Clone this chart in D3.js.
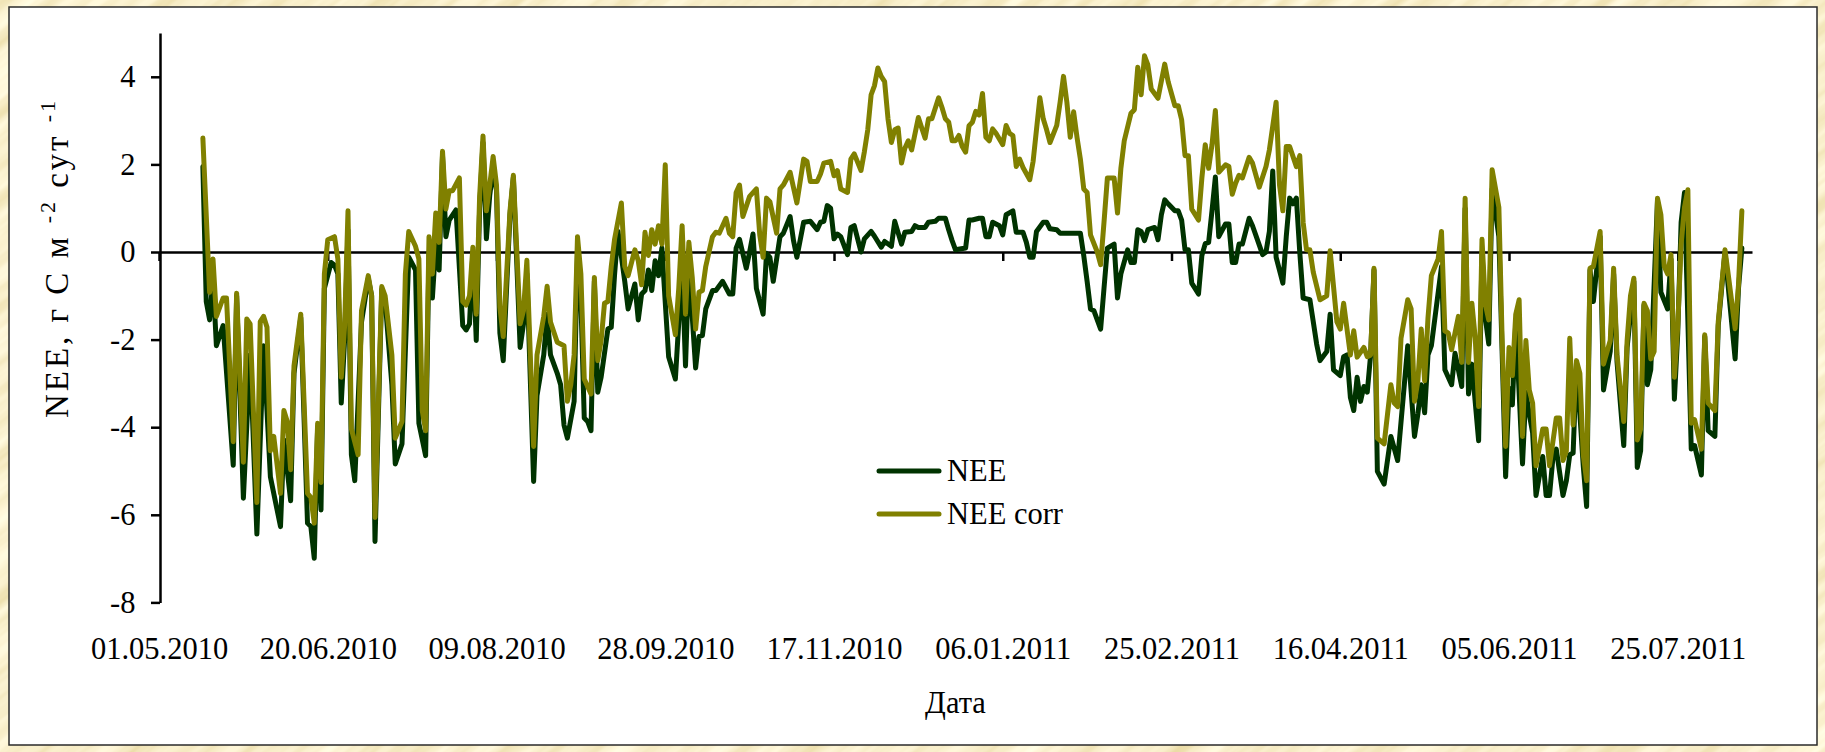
<!DOCTYPE html>
<html>
<head>
<meta charset="utf-8">
<script src="https://cdnjs.cloudflare.com/ajax/libs/d3/7.8.5/d3.min.js"></script>
<style>
	body { margin: 0; background: #fff; }
	svg { display: block; }
	text { font-family: "Liberation Serif", "Times New Roman", serif; fill: #000; }
</style>
</head>
<body>
<svg id="chart" width="1825" height="752"></svg>
<script>
// ---- data ----
// x tick labels, 50 days apart; the first one is the axis start
const tickLabels = ['01.05.2010', '20.06.2010', '09.08.2010', '28.09.2010', '17.11.2010',
	'06.01.2011', '25.02.2011', '16.04.2011', '05.06.2011', '25.07.2011'];
const axisEndLabel = '16.08.2011';
const yTickValues = [-8, -6, -4, -2, 0, 2, 4];
const yDomain = [-8, 5];
const seriesNames = ['NEE', 'NEE corr'];

// days counted from 01.05.2010
const neeDays = [13,14,15,16,17,19,22,23,25,27,29,31,33,36,37,39,40,42,44,45,46,47,48,49,51,52,53,54,55,56,57,58,60,62,63,64,66,67,69,70,72,74,76,77,79,80,81,82,83,84,85,86,88,90,91,92,93,94,95,96,97,98,99,100,101,102,104,105,107,108,109,111,112,114,115,116,118,119,120,121,123,124,125,126,127,128,129,130,131,133,134,135,136,138,139,141,142,143,144,145,146,147,148,149,151,153,155,156,157,159,160,161,162,164,165,167,169,170,171,172,174,175,176,177,179,180,181,182,184,185,187,188,189,191,193,195,196,197,198,199,200,201,202,204,205,206,208,209,211,212,214,215,217,218,220,221,223,224,225,227,228,230,231,233,234,235,236,239,240,241,243,244,245,246,247,249,250,251,253,254,256,257,258,259,260,262,263,264,266,267,273,274,275,276,277,279,280,281,283,284,285,287,288,289,290,291,292,293,295,296,297,298,299,301,302,303,304,305,306,308,309,310,311,312,313,314,316,317,318,319,320,321,323,324,327,328,329,330,331,333,334,335,336,337,338,339,341,342,343,344,346,347,348,350,351,352,353,354,355,356,357,358,359,360,361,363,365,367,370,372,373,374,375,376,377,380,381,383,384,386,387,388,389,391,392,393,394,395,397,399,400,401,402,404,405,406,407,408,410,411,412,413,414,416,417,418,419,420,422,423,424,425,427,428,430,431,432,434,435,437,438,439,440,441,442,444,445,447,448,449,450,451,452,454,455,457,458,459,461,462,464,465,467,468,469];
const neeValues = [1.95,-1.13,-1.55,-0.6,-2.14,-1.68,-4.87,-1.0,-5.62,-2.35,-6.44,-2.14,-5.13,-6.27,-4.29,-5.68,-2.77,-1.5,-6.19,-6.27,-6.99,-4.0,-5.89,-0.83,-0.24,-0.3,-0.5,-3.45,-2.0,0.5,-4.63,-5.22,-1.6,-0.6,-1.0,-6.61,-0.85,-1.1,-3.03,-4.84,-4.38,-0.12,-0.41,-3.91,-4.65,0.0,-1.05,0.18,-0.41,2.2,0.35,0.73,0.96,-1.68,-1.78,-1.64,0.0,-2.02,1.0,2.5,0.3,1.3,1.9,1.4,-1.85,-2.48,0.85,1.7,-2.18,-1.64,-0.5,-5.24,-3.28,-2.35,-1.42,-2.35,-2.77,-3.03,-3.95,-4.25,-3.41,0.0,-1.09,-3.79,-3.87,-4.08,-0.67,-3.2,-2.86,-1.76,-1.72,-0.5,0.47,-0.67,-1.3,-0.73,-1.55,-0.96,-0.88,-0.41,-0.88,-0.2,-0.54,0.09,-2.39,-2.9,-0.33,-2.6,-0.3,-2.65,-1.93,-1.91,-1.3,-0.88,-0.88,-0.67,-0.96,-0.96,0.09,0.29,-0.37,0.0,0.41,-0.83,-1.42,-0.03,-0.12,-0.67,0.35,0.43,0.81,0.26,-0.12,0.68,0.7,0.51,0.68,0.7,1.06,1.0,0.3,0.41,0.35,-0.06,0.56,0.6,0.0,0.3,0.47,0.36,0.11,0.24,0.13,0.7,0.18,0.45,0.47,0.6,0.56,0.56,0.68,0.7,0.77,0.77,0.5,0.26,0.05,0.09,0.73,0.73,0.77,0.77,0.35,0.35,0.68,0.6,0.39,0.85,0.94,0.45,0.45,0.22,-0.12,-0.12,0.47,0.68,0.68,0.53,0.51,0.43,0.43,-0.08,-0.67,-1.3,-1.34,-1.76,-0.83,0.09,0.18,-1.05,-0.5,0.05,-0.24,-0.24,0.51,0.47,0.26,0.51,0.56,0.28,0.85,1.19,1.1,0.94,0.94,0.73,0.05,0.05,-0.71,-0.96,-0.08,0.19,0.22,0.94,1.71,0.35,0.64,0.64,-0.24,-0.24,0.18,0.18,0.77,0.6,-0.06,0.0,0.47,1.85,-0.12,-0.71,0.35,1.23,1.1,1.23,0.0,-1.05,-1.09,-1.59,-2.1,-2.48,-2.27,-1.42,-2.69,-2.82,-2.39,-2.35,-3.32,-3.62,-2.86,-3.41,-3.07,-3.2,-2.35,-0.41,-5.01,-5.3,-4.21,-4.76,-2.14,-4.21,-3.7,-3.03,-3.67,-2.35,-2.14,-0.33,-2.69,-3.03,-2.31,-3.07,1.0,-3.24,-2.56,-4.31,0.0,-1.51,-2.1,1.44,0.35,-5.13,-3.11,-3.49,-1.59,-4.84,-3.2,-3.7,-4.13,-5.56,-4.67,-5.56,-5.56,-4.71,-4.5,-5.56,-5.22,-4.63,-4.59,-2.52,-4.88,-5.81,-0.41,-1.13,0.35,-3.15,-2.27,-0.5,-2.5,-4.42,-2.18,-0.67,-4.92,-4.54,-1.21,-3.03,-2.69,1.19,-0.92,-1.3,-0.16,-3.36,-1.85,0.68,1.36,-4.5,-4.42,-5.09,-1.93,-4.08,-4.21,-1.68,0.0,-0.83,-2.44,-0.83,0.09];

const neeCorrDays = [13,15,16,17,19,20,22,23,25,26,27,29,30,31,32,33,34,36,37,38,39,40,42,44,45,46,47,48,49,50,52,53,54,55,56,57,59,60,62,63,64,66,67,69,70,72,73,74,76,77,78,79,80,81,82,83,84,85,86,87,89,90,91,92,93,94,95,96,97,98,99,100,101,102,104,105,107,108,109,111,112,114,115,116,118,120,121,122,123,124,125,126,128,129,130,131,132,133,134,135,137,138,139,141,142,143,144,145,146,147,148,149,150,151,153,154,155,156,157,158,159,160,161,162,164,165,166,168,169,170,171,172,173,175,177,178,179,180,181,183,184,185,187,189,191,192,193,195,196,197,199,200,201,202,204,205,206,208,209,210,211,212,213,214,215,216,217,218,219,220,221,222,223,225,226,227,228,229,231,232,233,234,235,236,237,238,239,240,241,242,243,244,245,246,247,248,250,251,252,253,254,255,256,258,259,261,262,263,264,266,267,268,269,270,271,272,273,274,275,276,278,279,280,281,283,284,285,286,288,289,290,291,292,293,294,296,298,299,301,302,303,304,305,306,308,309,310,311,312,313,314,316,317,318,319,320,321,323,324,326,328,329,331,332,333,334,335,337,338,339,340,341,342,344,346,347,349,350,351,353,354,355,357,358,359,360,361,363,365,366,367,368,370,371,372,373,374,375,376,377,379,380,381,382,383,384,385,386,387,388,389,390,391,392,393,394,395,397,398,399,400,401,402,403,404,405,406,407,408,410,411,412,414,415,416,417,418,419,420,421,422,423,424,425,427,428,430,431,432,434,435,436,437,438,439,440,441,442,443,444,445,446,447,448,449,450,451,452,453,454,455,457,458,459,461,462,464,465,467,468,469];
const neeCorrValues = [2.6,-0.92,-0.16,-1.47,-1.05,-1.05,-4.33,-0.94,-4.8,-1.53,-1.64,-5.72,-1.59,-1.47,-1.72,-4.54,-4.21,-5.51,-3.62,-3.87,-4.97,-2.6,-1.42,-5.51,-5.6,-6.19,-3.91,-5.26,-0.5,0.28,0.35,-0.16,-2.86,-1.68,0.94,-4.04,-4.63,-1.34,-0.54,-1.0,-6.06,-0.79,-1.0,-2.35,-4.25,-3.87,-0.5,0.47,0.13,-0.16,-3.62,-4.08,0.35,-0.5,0.89,0.22,2.3,0.98,1.4,1.4,1.69,-1.13,-1.21,-1.0,0.11,-1.42,1.27,2.65,0.94,1.53,2.18,1.53,-1.26,-1.93,0.94,1.75,-1.64,-1.34,-0.19,-4.44,-2.35,-1.47,-0.78,-1.6,-2.06,-2.14,-3.41,-3.03,-2.35,0.35,-0.5,-2.9,-3.24,-0.58,-2.48,-2.02,-1.17,-1.13,-0.33,0.3,1.12,-0.33,-0.54,0.05,-0.2,-0.75,0.45,-0.08,0.51,0.18,0.6,0.18,1.99,-1.0,-1.89,-0.83,0.6,-1.42,0.22,-0.58,-1.76,-0.92,-0.88,-0.33,0.35,0.45,0.43,0.77,0.43,0.35,1.36,1.53,0.81,1.27,1.44,0.39,-0.12,1.23,1.15,0.43,1.44,1.53,1.82,1.12,2.12,2.07,1.61,1.61,1.78,2.03,2.07,1.74,1.86,1.44,1.36,2.12,2.24,1.86,2.29,2.79,3.59,3.8,4.2,4.01,3.89,3.04,2.5,2.79,2.83,2.03,2.37,2.54,2.33,3.07,2.83,2.6,3.04,3.04,3.52,3.3,3.04,2.96,2.54,2.54,2.66,2.41,2.28,2.88,2.96,3.21,3.13,3.62,2.62,2.54,2.81,2.71,2.45,2.89,2.71,2.66,1.95,2.12,1.93,1.65,2.07,3.52,3.04,2.79,2.5,2.89,3.42,4.01,3.42,2.62,3.2,2.62,2.12,1.44,1.36,0.39,0.0,-0.29,0.68,1.69,1.69,0.89,1.91,2.54,3.17,3.25,4.22,3.59,4.48,4.27,3.72,3.51,4.29,3.89,3.34,3.34,3.02,2.2,2.2,0.98,0.73,1.69,2.45,1.91,2.45,3.23,1.82,1.99,1.95,1.32,1.57,1.75,1.69,2.16,2.03,1.48,1.95,2.33,3.42,1.53,0.94,2.41,2.41,1.95,2.2,0.68,0.05,0.05,-0.46,-1.09,-1.0,0.03,-1.59,-1.76,-1.17,-2.35,-1.8,-2.4,-2.18,-2.39,-2.35,-0.37,-4.25,-4.38,-3.03,-3.45,-3.53,-1.97,-1.09,-1.3,-3.41,-2.94,-1.76,-2.94,-1.5,-0.54,-0.16,0.47,-1.8,-1.85,-2.23,-1.85,-1.47,-2.52,1.23,-2.52,-1.17,-1.97,-3.53,0.29,-1.2,-1.55,1.88,1.02,-2.1,-4.44,-2.18,-2.82,-1.42,-1.09,-4.21,-2.02,-3.15,-3.45,-4.88,-4.04,-4.04,-4.88,-3.79,-3.79,-4.76,-4.54,-1.97,-3.95,-2.48,-2.77,-4.63,-5.22,-0.37,-0.33,0.47,-2.56,-2.02,-0.37,-2.35,-3.87,-2.02,-1.0,-0.6,-4.29,-4.04,-1.17,-1.34,-2.44,-2.27,1.23,0.85,-0.33,-0.5,-0.06,-2.86,-1.68,0.18,1.02,1.42,-3.91,-3.83,-4.5,-1.89,-3.45,-3.62,-1.59,0.05,-0.54,-1.75,-0.75,0.94];


window.app = window.app || {};

window.app.neeChart = (function() {

	'use strict';

	var sgChart,
		sgXScale,
		sgYScale,
		sgTickDates,
		sgSeries,
		sgSettings = {
			width: 1825,
			height: 752,
			plot: {
				left: 159,
				right: 1752,
				top: 33,
				bottom: 602.4
			},
			panel: { x: 9, y: 7, width: 1808, height: 738 },
			colors: ['#003300', '#808000'],
			lineWidth: 5,
			fontSize: 30.5,
			tickSize: 9
		};

	const parseDate = d3.timeParse('%d.%m.%Y');


	/**
	* turn the day offsets and values into point objects
	* @returns {undefined}
	*/
	const prepareDataset = function() {
		let start = parseDate(tickLabels[0]);
		sgTickDates = tickLabels.map(parseDate);

		const toPoints = function(days, values) {
			return days.map(function(day, i) {
				return { date: d3.timeDay.offset(start, day), value: values[i] };
			});
		};

		sgSeries = [
			{ name: seriesNames[0], color: sgSettings.colors[0], points: toPoints(neeDays, neeValues) },
			{ name: seriesNames[1], color: sgSettings.colors[1], points: toPoints(neeCorrDays, neeCorrValues) }
		];
	};


	/**
	* parchment frame with a white panel on top
	* @returns {undefined}
	*/
	const drawBackground = function() {
		let defs = sgChart.append('defs');

		let filter = defs.append('filter')
			.attr('id', 'parchment')
			.attr('filterUnits', 'userSpaceOnUse')
			.attr('x', -300).attr('y', -700)
			.attr('width', 2400).attr('height', 2200);

		filter.append('feTurbulence')
			.attr('type', 'fractalNoise')
			.attr('baseFrequency', '0.006 0.07')
			.attr('numOctaves', 3)
			.attr('seed', 7);

		filter.append('feColorMatrix')
			.attr('type', 'matrix')
			.attr('values', '0.30 0 0 0 0.80  0.38 0 0 0 0.68  0.55 0 0 0 0.33  0 0 0 0 1');

		sgChart.append('rect')
			.attr('width', sgSettings.width)
			.attr('height', sgSettings.height)
			.attr('fill', '#f3e2a6');

		sgChart.append('g')
			.attr('transform', 'rotate(-38 912 376)')
			.append('rect')
			.attr('x', -300).attr('y', -700)
			.attr('width', 2400).attr('height', 2200)
			.attr('filter', 'url(#parchment)');

		let p = sgSettings.panel;
		sgChart.append('rect')
			.attr('x', p.x).attr('y', p.y)
			.attr('width', p.width).attr('height', p.height)
			.attr('fill', '#fff')
			.attr('stroke', '#2a2a2a')
			.attr('stroke-width', 1.5);
	};


	/**
	* create scales
	* @returns {undefined}
	*/
	const createScales = function() {
		let p = sgSettings.plot;

		sgXScale = d3.scaleTime()
			.domain([parseDate(tickLabels[0]), parseDate(axisEndLabel)])
			.range([p.left, p.right]);

		sgYScale = d3.scaleLinear()
			.domain(yDomain)
			.range([p.bottom, p.top]);
	};


	/**
	* create the axes
	* @returns {undefined}
	*/
	const createAxes = function() {
		let p = sgSettings.plot;

		// y axis on the left edge of the plot, plain hyphen for negatives
		let yAxis = d3.axisLeft(sgYScale)
			.tickValues(yTickValues)
			.tickSize(sgSettings.tickSize)
			.tickSizeOuter(0)
			.tickPadding(15.5)
			.tickFormat(function(d) { return String(d); });

		let yG = sgChart.append('g')
			.attr('class', 'axis axis--y')
			.attr('transform', 'translate(' + (p.left + 1) + ',0)')
			.call(yAxis);

		// x axis crosses at zero, labels sit below the plot
		let xAxis = d3.axisBottom(sgXScale)
			.tickValues(sgTickDates)
			.tickSize(sgSettings.tickSize)
			.tickSizeOuter(0)
			.tickFormat('');

		let xG = sgChart.append('g')
			.attr('class', 'axis axis--x')
			.attr('transform', 'translate(0,' + sgYScale(0) + ')')
			.call(xAxis);

		let xLabels = d3.axisBottom(sgXScale)
			.tickValues(sgTickDates)
			.tickSize(0)
			.tickPadding(35)
			.tickFormat(function(d, i) { return tickLabels[i]; });

		let xlG = sgChart.append('g')
			.attr('class', 'axis axis--x-labels')
			.attr('transform', 'translate(0,' + p.bottom + ')')
			.call(xLabels);
		xlG.select('.domain').remove();

		[yG, xG, xlG].forEach(function(g) {
			g.selectAll('path.domain').attr('stroke', '#000').attr('stroke-width', 2.5);
			g.selectAll('.tick line').attr('stroke', '#000').attr('stroke-width', 2.5);
			g.selectAll('text')
				.attr('font-family', null)
				.attr('font-size', sgSettings.fontSize)
				.attr('fill', '#000');
		});
	};


	/**
	* add axis titles
	* @returns {undefined}
	*/
	const addTitles = function() {
		let yTitle = sgChart.append('text')
			.attr('transform', 'translate(68,258) rotate(-90)')
			.attr('text-anchor', 'middle')
			.attr('font-size', 33)
			.attr('letter-spacing', 3);

		yTitle.append('tspan').text('NEE, г С м ');
		yTitle.append('tspan').attr('dy', -13).attr('font-size', 22).text('-2');
		yTitle.append('tspan').attr('dy', 13).text(' сут ');
		yTitle.append('tspan').attr('dy', -13).attr('font-size', 22).text('-1');

		sgChart.append('text')
			.attr('x', (sgSettings.plot.left + sgSettings.plot.right) / 2)
			.attr('y', 713)
			.attr('text-anchor', 'middle')
			.attr('font-size', sgSettings.fontSize)
			.text('Дата');
	};


	/**
	* draw both series, corrected one on top
	* @returns {undefined}
	*/
	const addLines = function() {
		let line = d3.line()
			.x(function(d) { return sgXScale(d.date); })
			.y(function(d) { return sgYScale(d.value); });

		sgChart.append('g')
			.attr('class', 'series')
			.selectAll('path')
			.data(sgSeries)
			.enter()
			.append('path')
			.attr('d', function(d) { return line(d.points); })
			.attr('fill', 'none')
			.attr('stroke', function(d) { return d.color; })
			.attr('stroke-width', sgSettings.lineWidth)
			.attr('stroke-linejoin', 'round')
			.attr('stroke-linecap', 'round');
	};


	/**
	* legend in the middle of the plot
	* @returns {undefined}
	*/
	const addLegend = function() {
		let items = sgChart.append('g')
			.attr('class', 'legend')
			.selectAll('g')
			.data(sgSeries)
			.enter()
			.append('g')
			.attr('transform', function(d, i) { return 'translate(879,' + (471 + i * 43) + ')'; });

		items.append('line')
			.attr('x1', 0).attr('x2', 60)
			.attr('stroke', function(d) { return d.color; })
			.attr('stroke-width', sgSettings.lineWidth)
			.attr('stroke-linecap', 'round');

		items.append('text')
			.attr('x', 68)
			.attr('dy', '0.33em')
			.attr('font-size', sgSettings.fontSize)
			.text(function(d) { return d.name; });
	};


	const drawChart = function(chartSelector) {
		sgChart = d3.select(chartSelector);
		prepareDataset();
		drawBackground();
		createScales();
		createAxes();
		addTitles();
		addLines();
		addLegend();
	};

	return {
		drawChart
	};

})();

window.app.neeChart.drawChart('#chart');
</script>
</body>
</html>
